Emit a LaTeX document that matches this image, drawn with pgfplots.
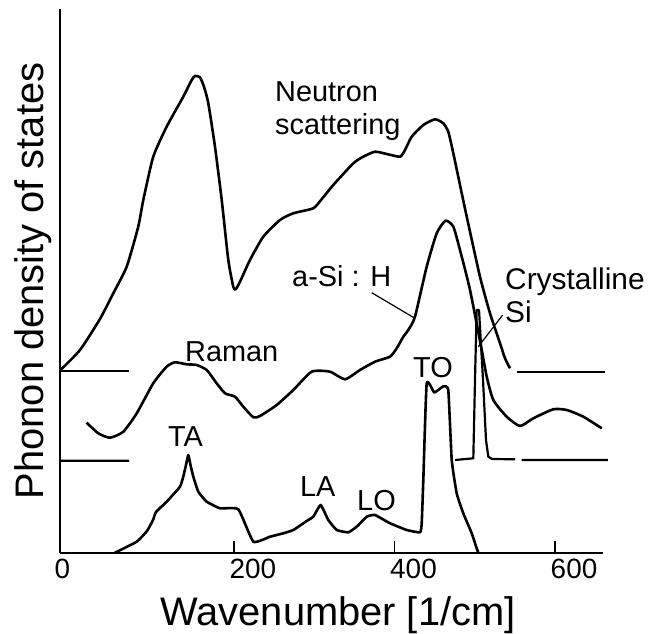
\documentclass[border=0pt]{standalone}
\usepackage{fontspec}
\setmainfont{Liberation Sans}
\usepackage{pgfplots}
\pgfplotsset{compat=1.18}

\begin{document}
\begin{tikzpicture}[
  curve/.style={black, line width=2.6bp, no marks, line join=round, smooth, tension=0.35},
  flat/.style={black, line width=2.2bp, no marks, line join=round},
]
\begin{axis}[
  at={(0,0)}, anchor=south west,
  scale only axis, width=543bp, height=543.7bp,
  xmin=-16.8, xmax=659.8, ymin=0, ymax=543.7,
  axis lines=left, axis line style={-, line width=2.4bp},
  clip=false,
  xtick={200,400,600}, ytick=\empty,
  tick align=inside, major tick length=12bp,
  tick style={line width=1.6bp, black},
  /pgf/number format/assume math mode=true,
  xticklabel style={font=\fontsize{28}{30}\selectfont, xshift=19bp, yshift=-3bp},
  extra x ticks={-13.7}, extra x tick labels={0},
  extra x tick style={major tick length=0pt, xticklabel style={xshift=-19bp}},
  xlabel={Wavenumber [1/cm]},
  ylabel={Phonon density of states},
  label style={font=\fontsize{40}{44}\selectfont},
  xlabel style={at={(axis description cs:0.512,-0.133)}, anchor=base},
  ylabel style={at={(axis description cs:-0.0313,0.5)}, rotate=0, anchor=base},
  unbounded coords=jump,
]
% neutron scattering
\addplot[curve] coordinates {
 (-16.8,182.2) (8.1,202.7) (33.0,233.7) (49.6,259.4) (66.3,286.0)
 (80.7,326.0) (87.0,352.7) (99.4,396.0) (116.1,426.0) (136.8,456.0) (147.3,472.7)
 (151.4,476.7) (157.6,475.4) (162.6,466.0) (168.0,449.4) (176.3,406.0) (184.7,352.7)
 (192.9,292.7) (199.1,266.0) (202.1,263.4) (207.5,271.0) (219.9,292.7) (236.5,316.0)
 (257.3,332.7) (273.9,339.4) (298.8,344.4) (308.4,352.7) (323.7,367.7) (348.7,389.4)
 (361.1,396.0) (375.7,401.0) (390.3,398.7) (406.9,396.0) (413.1,402.7) (421.4,416.0)
 (435.9,427.7) (450.5,433.4) (460.8,429.4) (467.0,421.0) (473.3,399.4) (481.6,367.7)
 (490.0,336.0) (506.5,276.0) (519.0,239.4) (531.5,209.4) (537.7,194.4) (543.9,184.4)
};
% its flat baseline on both ends
\addplot[flat] coordinates {(-16.8,181.5) (69.2,181.5) (70,nan) (552.3,181.0) (662.3,181.0)};
% a-Si:H Raman spectrum
\addplot[curve] coordinates {
 (16.4,130) (30.9,119.4) (45.5,115) (62.1,121) (78.8,139.4) (99.4,169.4) (116.1,186)
 (126.5,190.4) (141.1,188.4) (153.5,187.7) (166.0,182.7) (178.4,169.4) (188.8,159.4)
 (201.2,156) (211.6,146) (224.1,135.4) (232.4,136.7) (253.2,147.7) (273.9,162.7)
 (296.8,181) (319.6,181) (338.3,173.4) (357.0,182.7) (375.7,191) (394.4,196)
 (402.7,204.4) (411.0,216) (417.2,222.7) (425.5,236) (440.1,286) (452.6,319.4)
 (463.6,332) (473.3,326) (481.6,302.7) (494.1,262.7) (508.7,202.7) (514.9,176)
 (523.1,152.7) (539.8,136) (556.4,126.7) (573.0,134.4) (597.9,143.4) (614.6,142.7)
 (635.3,136) (658.2,124.4)
};
% crystalline Si Raman line
\addplot[flat] coordinates {
 (-16.8,92) (69.2,92) (70,nan)
 (475.4,92.7) (498.2,94.4) (500.5,180) (502.4,242.7) (505.3,242.7) (510.3,172.7)
 (514.0,112.7) (516.9,96) (521.5,93.7) (550.2,93.4) (554,nan)
 (558.5,92.7) (666.0,92.7)
};
% a-Si:H density of states (TA, LA, LO, TO bands)
\addplot[curve, tension=0.25] coordinates {
 (51.7,0) (78.8,11) (91.6,21.7) (99.1,32.7) (102.8,40.7) (116.1,51) (132.7,66)
 (136.8,76) (140.2,87.7) (143.1,97.7) (145.8,87.7) (149.3,76) (155.5,61) (166.0,51)
 (182.6,44.4) (205.4,43.4) (224.1,11) (244.9,16) (261.4,19.4) (273.9,22.7)
 (290.6,31.7) (298.8,36) (308.0,47.7) (317.5,32.7) (328.0,22.7) (342.4,20.4)
 (352.9,26) (365.4,36) (375.7,37.7) (394.4,29.4) (415.2,22.7) (431.8,20.4)
 (433.9,29.4) (435.9,72.7) (440.1,169.4) (449.6,160.2) (460.4,166.2) (467.0,162.7)
 (471.3,92.7) (477.5,59.4) (485.7,39.4) (496.2,19.4) (502.4,4.4) (504.4,0)
};
% annotations
\begin{scope}[every node/.style={font=\fontsize{29}{32}\selectfont, inner sep=0pt, anchor=base west}]
\node at (axis cs:251.1,450.7) {Neutron};
\node at (axis cs:251.1,417.7) {scattering};
\node at (axis cs:272.3,265.7) {a-Si : H};
\node[font=\fontsize{30}{32}\selectfont] at (axis cs:537.7,262.7) {Crystalline};
\node[font=\fontsize{30}{32}\selectfont] at (axis cs:537.7,229.7) {Si};
\node at (axis cs:138.9,191) {Raman};
\node at (axis cs:117.8,106) {TA};
\node at (axis cs:282.2,56) {LA};
\node at (axis cs:353.3,42.7) {LO};
\node at (axis cs:423.1,174.7) {TO};
\end{scope}
\draw[line width=1.2bp] (axis cs:371.6,260) -- (axis cs:425.5,234.4);
\draw[line width=1.2bp] (axis cs:534.8,237.7) -- (axis cs:504.4,206);
\end{axis}
\pgfresetboundingbox
\path[use as bounding box] (-60bp,-81.3bp) rectangle (589bp,552.7bp);
\end{tikzpicture}
\end{document}
